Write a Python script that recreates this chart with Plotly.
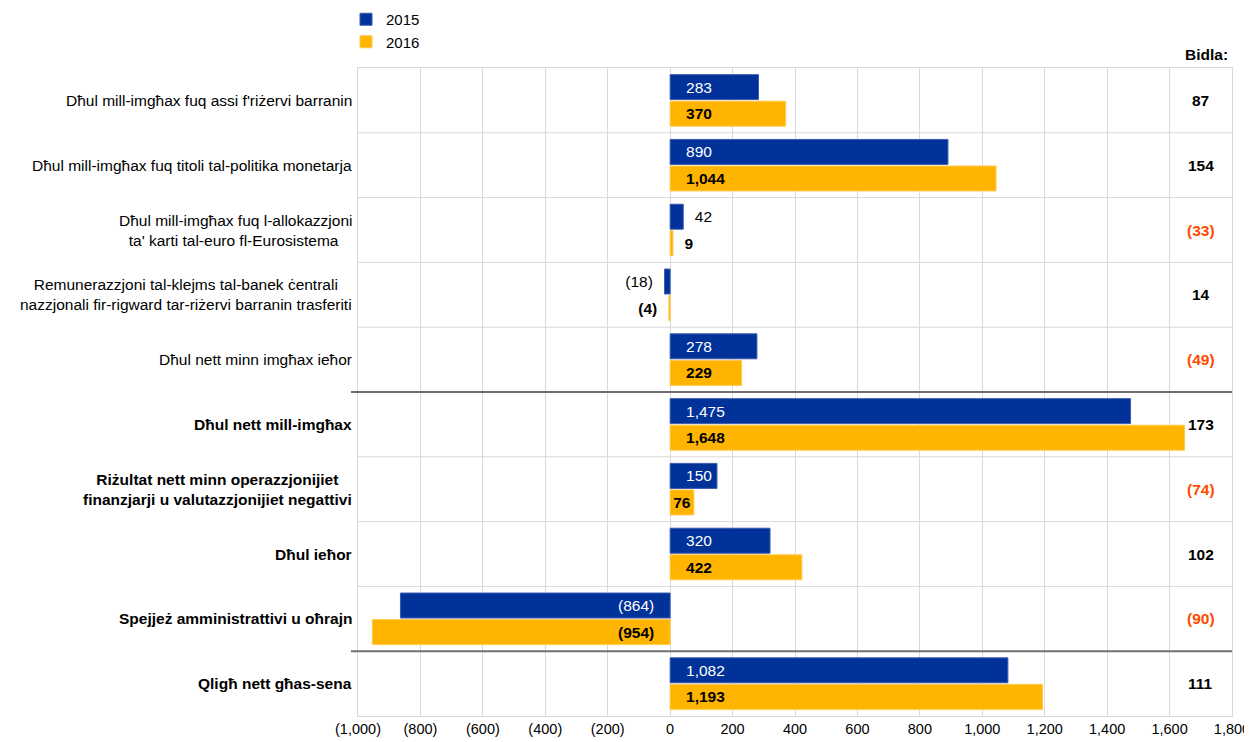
import plotly.graph_objects as go

categories = [
    "Dħul mill-imgħax fuq assi f'riżervi barranin",
    "Dħul mill-imgħax fuq titoli tal-politika monetarja",
    "Dħul mill-imgħax fuq l-allokazzjoni<br>ta' karti tal-euro fl-Eurosistema ",
    "Remunerazzjoni tal-klejms tal-banek ċentrali<br>nazzjonali fir-rigward tar-riżervi barranin trasferiti",
    "Dħul nett minn imgħax ieħor",
    "<b>Dħul nett mill-imgħax</b>",
    "<b>Riżultat nett minn operazzjonijiet<br>finanzjarji u valutazzjonijiet negattivi</b>",
    "<b>Dħul ieħor</b>",
    "<b>Spejjeż amministrattivi u oħrajn</b>",
    "<b>Qligħ nett għas-sena</b>",
]
values_2015 = [283, 890, 42, -18, 278, 1475, 150, 320, -864, 1082]
values_2016 = [370, 1044, 9, -4, 229, 1648, 76, 422, -954, 1193]
changes = [87, 154, -33, 14, -49, 173, -74, 102, -90, 111]
tick_vals = [-1000, -800, -600, -400, -200, 0, 200, 400, 600, 800, 1000, 1200, 1400, 1600, 1800]

BLUE = "#003299"
GOLD = "#FFB400"
ORANGE = "#FF4B00"
FONT = "Liberation Sans, Arial, sans-serif"
FS = 15.5
NB = "\u00a0"

# the page body adds an 8px offset; size the figure so it ends at the window edge
W, H = 1244, 734
ML, MR, MT, MB = 350, 20, 60, 26
PW, PH = W - ML - MR, H - MT - MB

def fmt(v):
    s = f"{abs(v):,}"
    return f"({s})" if v < 0 else s

def labels(vals, min_inside):
    texts, pos = [], []
    for v in vals:
        inside = abs(v) >= min_inside
        if inside:
            pad = NB * 3 if abs(v) >= 100 else ""
        else:
            pad = NB * 2
        t = fmt(v)
        texts.append(pad + t if v >= 0 else t + pad)
        pos.append("inside" if inside else "outside")
    return texts, pos

ids = list(range(len(categories)))

t15, p15 = labels(values_2015, 100)
t16, p16 = labels(values_2016, 60)

fig = go.Figure()
fig.add_trace(go.Bar(
    name="2015", y=ids, x=values_2015, orientation="h",
    marker=dict(color=BLUE, line=dict(width=1, color="#3a5bb0")),
    text=t15, textposition=p15, insidetextanchor="start", textangle=0, constraintext="none",
    insidetextfont=dict(color="white", size=FS, family=FONT),
    outsidetextfont=dict(color="#000000", size=FS, family=FONT),
    cliponaxis=False, hoverinfo="skip",
))
fig.add_trace(go.Bar(
    name="2016", y=ids, x=values_2016, orientation="h",
    marker=dict(color=GOLD, line=dict(width=1, color="#ffc94d")),
    text=["<b>" + t + "</b>" for t in t16], textposition=p16, insidetextanchor="start",
    textangle=0, constraintext="none",
    insidetextfont=dict(color="#000000", size=FS, family=FONT),
    outsidetextfont=dict(color="#000000", size=FS, family=FONT),
    cliponaxis=False, hoverinfo="skip",
))

shapes = []
for i in range(len(categories) - 1):
    thick = i in (4, 8)
    shapes.append(dict(
        type="line", xref="paper", yref="y", x0=-0.008 if thick else 0, x1=1,
        y0=i + 0.5, y1=i + 0.5,
        line=dict(color="#6f6f6f" if thick else "#d9d9d9", width=2 if thick else 1),
        layer="above" if thick else "below",
    ))

annotations = []
for i, c in enumerate(categories):
    annotations.append(dict(
        x=0, xref="paper", y=i, yref="y", text=c, showarrow=False,
        xanchor="right", yanchor="middle", align="center", xshift=-4,
        font=dict(size=FS, family=FONT, color="#000000"),
    ))
for i, v in enumerate(changes):
    annotations.append(dict(
        x=1700, xref="x", y=i, yref="y", text="<b>" + fmt(v) + "</b>", showarrow=False,
        xanchor="center", yanchor="middle",
        font=dict(size=FS, family=FONT, color=ORANGE if v < 0 else "#000000"),
    ))
annotations.append(dict(
    x=1, xref="paper", y=1, yref="paper", text="<b>Bidla:</b>", showarrow=False,
    xanchor="right", yanchor="bottom", yshift=3, xshift=-2,
    font=dict(size=FS, family=FONT, color="#000000"),
))

fig.update_layout(
    width=W, height=H,
    margin=dict(l=ML, r=MR, t=MT, b=MB, autoexpand=False),
    paper_bgcolor="white", plot_bgcolor="white",
    barmode="group", bargap=0.18, bargroupgap=0.06,
    font=dict(family=FONT, size=FS, color="#000000"),
    showlegend=True,
    legend=dict(xref="paper", yref="paper", x=-12 / PW, y=1 + 65 / PH,
                xanchor="left", yanchor="top", orientation="v",
                font=dict(size=15, family=FONT), traceorder="normal",
                bgcolor="rgba(0,0,0,0)", itemwidth=30, tracegroupgap=0),
    xaxis=dict(range=[-1000, 1800], tickvals=tick_vals, ticktext=[fmt(v) for v in tick_vals],
               showgrid=True, gridcolor="#d9d9d9", gridwidth=1, zeroline=True, zerolinecolor="#d9d9d9",
               zerolinewidth=1, showline=True, linecolor="#d9d9d9", mirror=True, ticks="",
               tickfont=dict(size=14.5, family=FONT), fixedrange=True, automargin=False),
    yaxis=dict(range=[9.5, -0.5], tickvals=ids, showticklabels=False, showgrid=False,
               zeroline=False, showline=True, linecolor="#d9d9d9", mirror=True, ticks="",
               fixedrange=True, automargin=False),
    shapes=shapes, annotations=annotations,
)

fig.write_html("out.html")
